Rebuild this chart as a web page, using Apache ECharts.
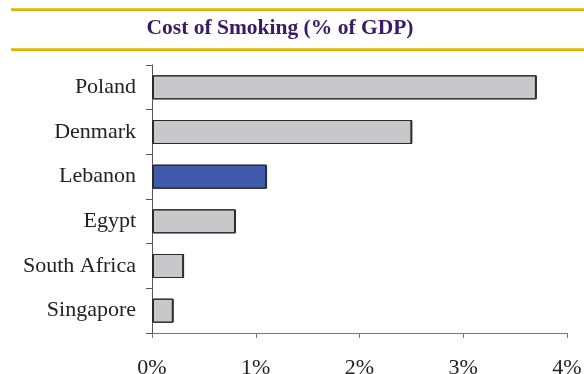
<!DOCTYPE html>
<html>
<head>
<meta charset="utf-8">
<script src="https://cdn.jsdelivr.net/npm/echarts@6/dist/echarts.min.js"></script>
<style>
  html, body { margin: 0; padding: 0; background: #fff; }
  #chart { width: 584px; height: 374px; }
</style>
</head>
<body>
<div id="chart"></div>
<script>
// Cost of smoking as a share of GDP, by country
const countries = ['Poland', 'Denmark', 'Lebanon', 'Egypt', 'South Africa', 'Singapore'];
const costPctGdp = [3.7, 2.5, 1.1, 0.8, 0.3, 0.2];
const highlighted = 'Lebanon';
const xTicks = [0, 1, 2, 3, 4];

const serif = '"Liberation Serif", "Times New Roman", serif';
const GRAY = '#c8c8ca';
const BLUE = '#3e5aa8';

const chart = echarts.init(document.getElementById('chart'), null, { renderer: 'canvas' });

chart.setOption({
  animation: false,
  backgroundColor: '#ffffff',
  graphic: [
    { type: 'line', shape: { x1: 11, y1: 9.7, x2: 584, y2: 9.7 },
      style: { stroke: '#e2b400', lineWidth: 2.7 } },
    { type: 'line', shape: { x1: 11, y1: 49.7, x2: 584, y2: 49.7 },
      style: { stroke: '#e2b400', lineWidth: 2.7 } },
    { type: 'text', x: 280, y: 28.5,
      style: { text: 'Cost of Smoking (% of GDP)', font: 'bold 21.5px ' + serif,
               fill: '#3a1a66', textAlign: 'center', textVerticalAlign: 'middle' } }
  ],
  grid: { left: 152, right: 17, top: 65, bottom: 41, containLabel: false, outerBoundsMode: 'none' },
  xAxis: {
    type: 'value',
    min: xTicks[0],
    max: xTicks[xTicks.length - 1],
    interval: 1,
    splitLine: { show: false },
    axisLine: { show: true, lineStyle: { color: '#777', width: 1 } },
    axisTick: { show: true, length: 5, lineStyle: { color: '#777' } },
    axisLabel: {
      formatter: v => v + '%',
      fontFamily: serif, fontSize: 22, color: '#222', margin: 24
    }
  },
  yAxis: {
    type: 'category',
    data: countries,
    inverse: true,
    axisLine: { show: true, lineStyle: { color: '#555', width: 1 } },
    axisTick: { show: true, length: 6, alignWithLabel: false, lineStyle: { color: '#555' } },
    axisLabel: { fontFamily: serif, fontSize: 22, color: '#222', margin: 16 }
  },
  series: [{
    type: 'bar',
    barWidth: 24,
    data: countries.map((c, i) => ({
      value: costPctGdp[i],
      itemStyle: { color: c === highlighted ? BLUE : GRAY }
    })),
    itemStyle: {
      borderColor: '#2a2a2a', borderWidth: 1,
      shadowColor: '#2a2a2a', shadowOffsetX: 1, shadowBlur: 0
    }
  }]
});
</script>
</body>
</html>
